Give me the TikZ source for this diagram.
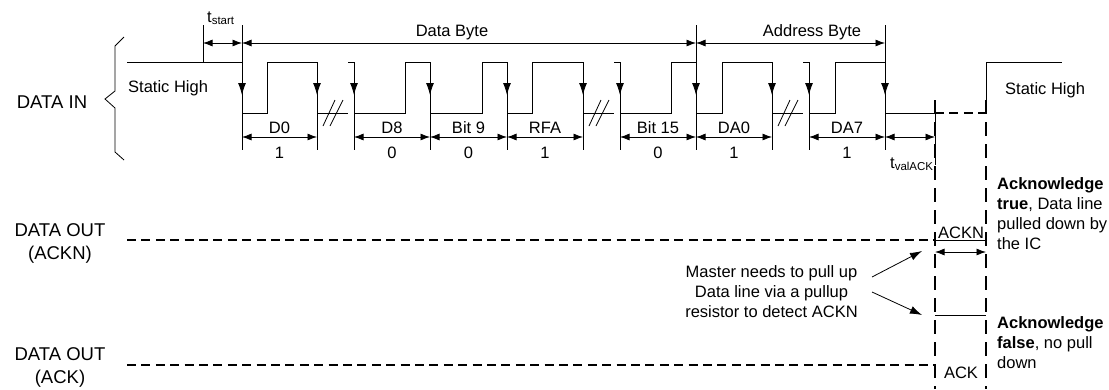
\documentclass[tikz,border=0pt]{standalone}
\usepackage{fontspec}
\setmainfont{Liberation Sans}
\usetikzlibrary{arrows.meta}

\newcommand{\lowsub}[1]{\raisebox{-2.5pt}{\fontsize{11.5}{12}\selectfont #1}}

\tikzset{
  sig/.style={line width=0.8pt},
  tip/.style={-{Latex[length=12pt,width=8pt]}, line width=0.8pt},
  dim/.style={{Latex[length=9.5pt,width=7pt]}-{Latex[length=9.5pt,width=7pt]}, line width=0.8pt},
  hdash/.style={line width=1.6pt, dash pattern=on 9pt off 5.4pt},
  vdash/.style={line width=1.6pt, dash pattern=on 14pt off 8pt},
  txt/.style={inner sep=0pt, font=\fontsize{16.5}{20}\selectfont},
  side/.style={inner sep=0pt, font=\fontsize{18.5}{23}\selectfont, align=center},
}

\begin{document}
\begin{tikzpicture}[x=1pt, y=-1pt]
        \useasboundingbox (0,0) rectangle (1109,389);

        % DATA IN brace and labels
        \draw [sig] (124,37) -- (115,46) -- (115,91) -- (105,99) -- (115,108) -- (115,152) -- (124,160);
        \node [side, anchor=base] (datain) at (52,108) {DATA IN};
        \node [side, anchor=base] (dataoutN) at (60,259) {DATA OUT\\(ACKN)};
        \node [side, anchor=base] (dataoutA) at (60,383) {DATA OUT\\(ACK)};

        % static high before start
        \draw [sig] (127,62) -- (242,62);
        \node [txt, anchor=base west] (highL) at (128,92) {Static High};

        % bits: start / rise / end / value / name
        \foreach \a/\r/\b/\v/\lbl in {242/267/317/1/D0, 354/405/430/0/D8, 430/482/507/0/Bit 9,
                                      507/532/583/1/RFA, 620/671/696/0/Bit 15, 696/722/772/1/DA0, 809/835/885/1/DA7} {
            \draw [sig] (\a,113) -- (\r,113) -- (\r,62) -- (\b,62);
            \draw [dim] (\a,137) -- (\b,137);
            \node [txt, anchor=base] at ({(\a+\b)/2},133) {\lbl};
            \node [txt, anchor=base] at ({(\a+\b)/2},158) {\v};
        }

        % falling edges
        \foreach \x in {242,317,354,430,507,583,620,696,772,809,885} {
            \draw [sig] (\x,62) -- (\x,150);
            \draw [tip] (\x,62) -- (\x,95);
        }
        \foreach \x in {242,696,885} \draw [sig] (\x,25) -- (\x,62);

        % skipped bits
        \foreach \e in {317,583,772} {
            \draw [sig] (\e,113) -- ({\e+31},113);
            \draw [sig] ({\e+31},62) -- ({\e+37},62);
            \draw [sig] ({\e+6},126) -- ({\e+18},100);
            \draw [sig] ({\e+13},126) -- ({\e+26},100);
        }

        % byte ranges on top
        \draw [sig] (203,25) -- (203,62);
        \draw [dim] (203,43) -- (242,43);
        \draw [dim] (242,43) -- (696,43);
        \draw [dim] (696,43) -- (885,43);
        \node [txt, anchor=base west] (tstart) at (207,22) {t\lowsub{start}};
        \node [txt, anchor=base] (databyte) at (452,36) {Data Byte};
        \node [txt, anchor=base] (addrbyte) at (812,36) {Address Byte};

        % acknowledge window
        \draw [sig] (885,113) -- (935,113);
        \draw [hdash] (935,113) -- (986,113);
        \draw [sig] (986,100) -- (986,62) -- (1062,62);
        \node [txt, anchor=base west] (highR) at (1005,94) {Static High};
        \draw [sig] (935,100) -- (935,165);
        \draw [dim] (885,137) -- (935,137);
        \node [txt, anchor=base west] (tvalack) at (890,168) {t\lowsub{valACK}};
        \draw [vdash] (935,100) -- (935,389);
        \draw [vdash] (986,100) -- (986,389);

        % DATA OUT lines
        \draw [hdash] (127,240) -- (935,240);
        \draw [sig] (935,240) -- (986,240);
        \draw [dim] (935,252) -- (986,252);
        \node [txt, anchor=base] (ackn) at (961,238) {ACKN};
        \draw [hdash] (127,365) -- (935,365);
        \draw [sig] (935,315) -- (986,315);
        \node [txt, anchor=base] (ack) at (961,378) {ACK};

        % notes
        \node [txt, align=center, anchor=base] (master) at (771.5,317) {Master needs to pull up\\Data line via a pullup\\resistor to detect ACKN};
        \coordinate (mup) at (872,277);
        \coordinate (mdown) at (872,292);
        \coordinate (acknlvl) at (922,251);
        \coordinate (acklvl) at (922,315);
        \draw [tip] (mup) -- (acknlvl);
        \draw [tip] (mdown) -- (acklvl);
        \node [txt, align=left, anchor=base west] (acktrue) at (997,249) {\textbf{Acknowledge}\\\textbf{true}, Data line\\pulled down by\\the IC};
        \node [txt, align=left, anchor=base west] (ackfalse) at (997,368) {\textbf{Acknowledge}\\\textbf{false}, no pull\\down};
    \end{tikzpicture}
\end{document}
